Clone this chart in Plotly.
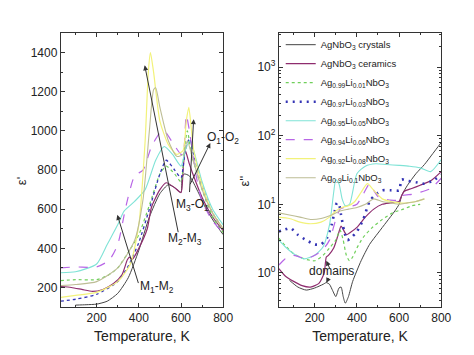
import plotly.graph_objects as go

# ---------------- data ----------------
names = [
    "AgNbO<sub>3</sub> crystals",
    "AgNbO<sub>3</sub> ceramics",
    "Ag<sub>0.99</sub>Li<sub>0.01</sub>NbO<sub>3</sub>",
    "Ag<sub>0.97</sub>Li<sub>0.03</sub>NbO<sub>3</sub>",
    "Ag<sub>0.95</sub>Li<sub>0.05</sub>NbO<sub>3</sub>",
    "Ag<sub>0.94</sub>Li<sub>0.06</sub>NbO<sub>3</sub>",
    "Ag<sub>0.92</sub>Li<sub>0.08</sub>NbO<sub>3</sub>",
    "Ag<sub>0.9</sub>Li<sub>0.1</sub>NbO<sub>3</sub>",
]

# permittivity eps' (left panel)
eps1_x = {
    "cry": [100, 150, 200, 250, 300, 350, 400, 450, 500, 540, 570, 600, 605, 615, 640, 680, 720, 760, 800],
    "cer": [30, 80, 130, 180, 230, 280, 320, 345, 355, 370, 400, 440, 460, 500, 530, 570, 600, 610, 620, 640, 670, 700, 750, 800],
    "l01": [30, 100, 200, 250, 300, 350, 400, 450, 500, 530, 570, 600, 615, 630, 650, 700, 750, 800],
    "l03": [30, 100, 200, 300, 350, 400, 450, 500, 530, 570, 600, 620, 640, 660, 700, 750, 800],
    "l05": [30, 100, 200, 250, 300, 330, 380, 430, 480, 520, 560, 600, 620, 640, 660, 700, 750, 800],
    "l06": [30, 100, 200, 260, 300, 340, 380, 420, 460, 500, 520, 560, 600, 610, 625, 640, 670, 700, 750, 800],
    "l08": [30, 100, 200, 300, 360, 400, 430, 445, 455, 470, 500, 540, 580, 610, 625, 637, 660, 700, 750, 800],
    "l10": [30, 100, 200, 300, 380, 420, 450, 470, 480, 500, 540, 580, 610, 630, 650, 700, 750, 800],
}
eps1_y = {
    "cry": [110, 112, 115, 130, 170, 250, 390, 560, 680, 725, 710, 685, 760, 780, 770, 690, 600, 530, 470],
    "cer": [205, 200, 190, 180, 190, 220, 265, 340, 355, 345, 400, 500, 610, 700, 735, 710, 685, 800, 900, 830, 740, 660, 560, 490],
    "l01": [235, 240, 240, 260, 300, 380, 470, 620, 780, 820, 780, 740, 900, 1000, 880, 700, 560, 480],
    "l03": [130, 140, 165, 230, 310, 430, 600, 780, 850, 800, 760, 900, 960, 880, 720, 580, 500],
    "l05": [275, 280, 320, 420, 520, 590, 640, 700, 850, 920, 880, 820, 900, 950, 900, 740, 600, 520],
    "l06": [300, 305, 305, 340, 420, 620, 770, 800, 920, 990, 1000, 940, 880, 880, 1080, 1000, 780, 640, 540, 480],
    "l08": [150, 160, 175, 230, 320, 520, 950, 1300, 1400, 1300, 1050, 930, 880, 900, 1050, 1120, 900, 720, 580, 500],
    "l10": [210, 215, 230, 300, 440, 650, 1000, 1210, 1220, 1120, 950, 870, 880, 950, 880, 700, 580, 500],
}

# loss eps'' (right panel)
eps2_x = {
    "cry": [80, 120, 160, 200, 240, 255, 270, 285, 300, 315, 325, 335, 345, 360, 380, 420, 460, 500, 540, 580, 600, 615, 640, 680, 720, 760, 800],
    "cer": [30, 60, 100, 140, 180, 220, 245, 255, 265, 290, 310, 325, 335, 350, 370, 400, 440, 480, 520, 560, 600, 610, 625, 660, 700, 750, 800],
    "l01": [30, 60, 100, 150, 200, 240, 270, 300, 320, 335, 350, 365, 380, 400, 430, 470, 520, 570, 620, 660, 700],
    "l03": [30, 60, 85, 120, 160, 200, 230, 260, 280, 295, 305, 315, 325, 340, 355, 370, 400, 430, 460, 490, 520, 560, 600, 612, 640, 680, 720, 760, 800],
    "l05": [30, 60, 100, 150, 200, 240, 270, 290, 300, 315, 330, 345, 365, 400, 440, 490, 540, 600, 650, 700, 750, 800],
    "l06": [30, 50, 70, 100, 130, 160, 200, 240, 270, 300, 320, 340, 360, 380, 400, 430, 460, 480, 500, 530, 560, 600, 620, 660, 700, 750, 800],
    "l08": [30, 80, 130, 180, 230, 270, 300, 330, 360, 390, 420, 450, 480, 520, 560, 600, 640, 680, 720],
    "l10": [30, 80, 130, 180, 230, 280, 320, 360, 400, 440, 480, 520, 560, 600, 640, 680, 720],
}
eps2_y = {
    "cry": [0.78, 0.62, 0.56, 0.6, 0.68, 0.72, 0.68, 0.55, 0.45, 0.6, 0.62, 0.45, 0.36, 0.45, 0.75, 1.5, 2.6, 3.8, 5.5, 8, 10, 14, 19, 28, 38, 55, 80],
    "cer": [1.15, 0.9, 0.75, 0.65, 0.62, 0.7, 1.0, 1.7, 1.8, 2.3, 3.5, 4.8, 4.3, 3.6, 3.9, 4.6, 6.5, 8.5, 10, 10.5, 11, 13, 15.5, 17, 19, 22, 30],
    "l01": [3.2, 2.5, 1.9, 1.6, 1.5, 1.8, 2.3, 3.0, 4.2, 3.0, 1.8, 1.5, 1.7, 2.3, 3.3, 4.5, 6, 7.5, 8.5, 9.5, 10],
    "l03": [4.0, 4.3, 4.5, 3.6, 3.0, 2.6, 2.6, 3.3, 5.0, 8, 10.5, 10, 7, 4.0, 3.0, 3.2, 4.0, 6, 11, 14, 16, 16, 16, 23, 22, 21, 20, 22, 27],
    "l05": [3.0, 2.4, 1.9, 1.6, 1.8, 2.4, 5, 15, 23, 20, 12, 9.5, 10, 28, 36, 39, 38, 37, 36, 34, 30, 45],
    "l06": [1.3, 1.5, 1.7, 1.8, 1.7, 1.6, 1.8, 2.2, 3, 6, 8.5, 9, 9.5, 9.5, 10, 14, 20, 16, 13, 12, 11.5, 11.5, 13.5, 14, 15, 17, 24],
    "l08": [6.5, 6.2, 5.5, 5.2, 5.5, 6.5, 8, 9, 9.5, 11, 15, 20, 16, 12, 11, 10.5, 10.5, 11, 12],
    "l10": [7.5, 7, 6.5, 6, 6.2, 7, 8, 8.5, 9, 10, 12, 11, 10.5, 10, 10.5, 11, 12],
}

keys = ["cry", "cer", "l01", "l03", "l05", "l06", "l08", "l10"]
colors = ["#444444", "#8e2c6e", "#6fcf5a", "#3535b5", "#7fe3d6", "#b866e6", "#f2f27a", "#bdbd95"]
dashes_left = ["solid", "solid", "dot", "dot", "solid", "dash", "solid", "solid"]
dashes_right = ["solid", "solid", "dot", "2px,5px", "solid", "dash", "solid", "solid"]
widths = [1.0, 1.2, 1.2, 2.6, 1.1, 1.2, 1.2, 1.1]

x_ticks = [200, 400, 600, 800]
y1_ticks = [200, 400, 600, 800, 1000, 1200, 1400]
y2_ticks = [1, 10, 100, 1000]
y2_text = ["10<sup>0</sup>", "10<sup>1</sup>", "10<sup>2</sup>", "10<sup>3</sup>"]

# ---------------- figure ----------------
fig = go.Figure()
for k, nm, c, d, w in zip(keys, names, colors, dashes_left, widths):
    fig.add_trace(go.Scatter(x=eps1_x[k], y=eps1_y[k], mode="lines", name=nm,
                             line=dict(color=c, dash=d, width=min(w, 1.3), shape="spline", smoothing=0.6),
                             xaxis="x", yaxis="y", showlegend=False))
for k, nm, c, d, w in zip(keys, names, colors, dashes_right, widths):
    fig.add_trace(go.Scatter(x=eps2_x[k], y=eps2_y[k], mode="lines", name=nm,
                             line=dict(color=c, dash=d, width=w, shape="spline", smoothing=0.6),
                             xaxis="x2", yaxis="y2", showlegend=True))

FONT = "Liberation Sans, Arial, sans-serif"
axis_common = dict(showline=True, linecolor="#333", linewidth=1, mirror="allticks",
                   ticks="inside", ticklen=4, tickcolor="#333", showgrid=False, zeroline=False,
                   tickfont=dict(size=12, color="#222", family=FONT))

fig.update_layout(
    width=474, height=355,
    margin=dict(l=0, r=0, t=0, b=0),
    paper_bgcolor="white", plot_bgcolor="white",
    font=dict(family=FONT, color="#222"),
    xaxis=dict(domain=[0.131, 0.481], range=[30, 800], tickvals=x_ticks, anchor="y",
               title=dict(text="Temperature, K", font=dict(size=14), standoff=6),
               minor=dict(ticks="inside", ticklen=2, dtick=100, tickcolor="#333"), **axis_common),
    yaxis=dict(domain=[0.135, 0.907], range=[100, 1500], tickvals=y1_ticks, anchor="x",
               minor=dict(ticks="inside", ticklen=2, dtick=100, tickcolor="#333"), **axis_common),
    xaxis2=dict(domain=[0.601, 0.951], range=[30, 800], tickvals=x_ticks, anchor="y2",
                title=dict(text="Temperature, K", font=dict(size=14), standoff=6),
                minor=dict(ticks="inside", ticklen=2, dtick=100, tickcolor="#333"), **axis_common),
    yaxis2=dict(domain=[0.135, 0.907], type="log", range=[-0.5, 3.5], tickvals=y2_ticks,
                ticktext=y2_text, anchor="x2",
                minor=dict(ticks="inside", ticklen=2, tickcolor="#333",
                           tickvals=[m * 10 ** e for e in range(-1, 4) for m in range(2, 10)]),
                **axis_common),
    legend=dict(x=0.605, y=0.915, xanchor="left", yanchor="top", bgcolor="rgba(0,0,0,0)",
                font=dict(size=9.5, color="#222", family=FONT), tracegroupgap=0,
                itemwidth=30),
)

ann = []
# axis titles
ann.append(dict(text="ε'", x=0.025, y=0.49, xref="paper", yref="paper", showarrow=False,
                textangle=-90, font=dict(size=13)))
ann.append(dict(text="ε''", x=0.527, y=0.49, xref="paper", yref="paper", showarrow=False,
                textangle=-90, font=dict(size=13)))

arrow = dict(showarrow=True, arrowhead=2, arrowsize=1, arrowwidth=1, arrowcolor="#333", text="")
# left panel arrows
ann.append(dict(x=428, y=1335, ax=588, ay=475, xref="x", yref="y", axref="x", ayref="y", **arrow))
ann.append(dict(x=298, y=571, ax=400, ay=215, xref="x", yref="y", axref="x", ayref="y", **arrow))
ann.append(dict(x=660, y=1060, ax=640, ay=680, xref="x", yref="y", axref="x", ayref="y", **arrow))
ann.append(dict(x=739, y=938, ax=640, ay=720, xref="x", yref="y", axref="x", ayref="y", **arrow))
# left panel labels
lab = dict(showarrow=False, xref="x", yref="y", font=dict(size=12, color="#222"))
ann.append(dict(text="M<sub>1</sub>-M<sub>2</sub>", x=488, y=205, **lab))
ann.append(dict(text="M<sub>2</sub>-M<sub>3</sub>", x=620, y=450, **lab))
ann.append(dict(text="M<sub>3</sub>-O<sub>1</sub>", x=656, y=622, **lab))
ann.append(dict(text="O<sub>1</sub>-O<sub>2</sub>", x=716, y=965, xanchor="left", **lab))
# right panel
ann.append(dict(text="domains", x=280, y=0.03, xref="x2", yref="y2", showarrow=False,
                font=dict(size=12, color="#222")))
ann.append(dict(x=255, y=0.176, xref="x2", yref="y2", ax=4, ay=9, **arrow))
ann.append(dict(x=255, y=-0.146, xref="x2", yref="y2", ax=3, ay=-6, **arrow))

fig.update_layout(annotations=ann)
fig.write_html("out.html", config={"displayModeBar": False},
               post_script="document.body.style.margin='0px';")
